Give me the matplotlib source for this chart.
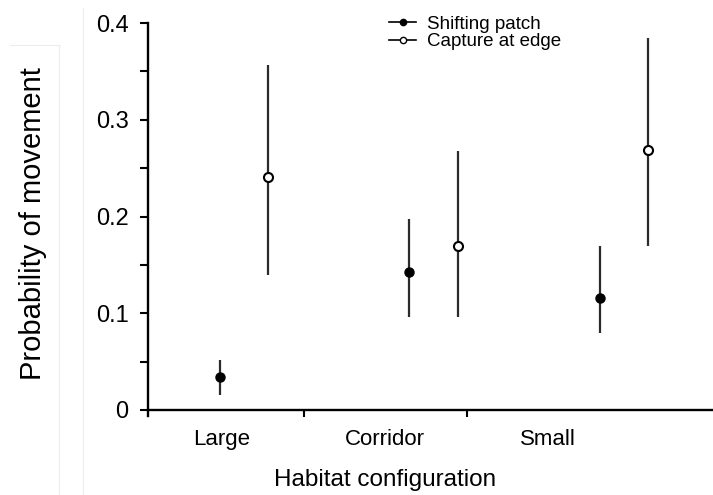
import numpy as np
import matplotlib
matplotlib.use("Agg")
import matplotlib.pyplot as plt
from matplotlib.lines import Line2D

plt.rcParams["font.family"] = ["Liberation Sans", "DejaVu Sans"]

# data
categories = ["Large", "Corridor", "Small"]
shift_mean = [0.034, 0.143, 0.116]
shift_low = [0.016, 0.096, 0.080]
shift_high = [0.052, 0.197, 0.170]
capture_mean = [0.241, 0.170, 0.269]
capture_low = [0.140, 0.096, 0.170]
capture_high = [0.357, 0.268, 0.385]

# layout: where each pair of points sits on the category axis
pair_x = np.array([0.99, 2.15, 3.32])
pair_gap = 0.295


def err(mean, low, high):
    mean = np.asarray(mean)
    return np.vstack([mean - np.asarray(low), np.asarray(high) - mean])


fig = plt.figure(figsize=(7.13, 4.95), dpi=100)
ax = fig.add_axes([0.2076, 0.16, 0.7924, 0.7935])

ax.errorbar(pair_x, shift_mean, yerr=err(shift_mean, shift_low, shift_high),
            fmt="o", color="black", ecolor="#2b2b2b", elinewidth=1.6,
            capsize=0, markersize=6.5, zorder=3)
ax.errorbar(pair_x + pair_gap, capture_mean,
            yerr=err(capture_mean, capture_low, capture_high),
            fmt="o", color="black", mfc="white", mec="black", mew=1.5,
            ecolor="#2b2b2b", elinewidth=1.6, capsize=0, markersize=6.5, zorder=3)

ax.set_xlim(0.546, 4.012)
ax.set_ylim(-0.006, 0.4)
ax.spines["top"].set_visible(False)
ax.spines["right"].set_visible(False)
ax.spines["left"].set_linewidth(1.7)
ax.spines["bottom"].set_linewidth(1.7)
ax.spines["bottom"].set_position(("data", 0))

ax.set_yticks([0, 0.1, 0.2, 0.3, 0.4])
ax.set_yticklabels(["0", "0.1", "0.2", "0.3", "0.4"])
ax.set_yticks(np.arange(0.05, 0.4, 0.1), minor=True)
ax.tick_params(axis="y", which="both", direction="out", length=6, width=1.5,
               pad=8, labelsize=17)

ax.set_xticks([1, 2, 3])
ax.set_xticklabels(categories)
ax.set_xticks([1.5, 2.5], minor=True)
ax.tick_params(axis="x", which="major", length=0, pad=14, labelsize=16)
ax.tick_params(axis="x", which="minor", direction="out", length=5, width=1.5)

ax.set_xlabel("Habitat configuration", fontsize=17.5, va="center")
ax.xaxis.set_label_coords(0.4195, -0.163)
ax.set_ylabel("Probability of movement", fontsize=21, va="center")
ax.yaxis.set_label_coords(-0.204, 0.49)

handles = [
    Line2D([], [], color="black", lw=1.2, marker="o", markersize=4.5,
           mfc="black"),
    Line2D([], [], color="black", lw=1.2, marker="o", markersize=4.5,
           mfc="white", mew=1.0),
]
fig.legend(handles, ["Shifting patch", "Capture at edge"], loc="upper left",
           bbox_to_anchor=(0.5456, 0.968), frameon=False, fontsize=13.5,
           handlelength=1.45, handletextpad=0.55, labelspacing=0.0,
           borderpad=0, borderaxespad=0)

# faint crop lines from the scanned panel
for xs, ys in [([59, 59], [45, 495]), ([10, 59], [45, 45]), ([83, 83], [8, 495])]:
    fig.add_artist(Line2D(np.array(xs) / 713, 1 - np.array(ys) / 495,
                          color="#ececec", lw=0.8))

fig.savefig("out.png", dpi=100)
